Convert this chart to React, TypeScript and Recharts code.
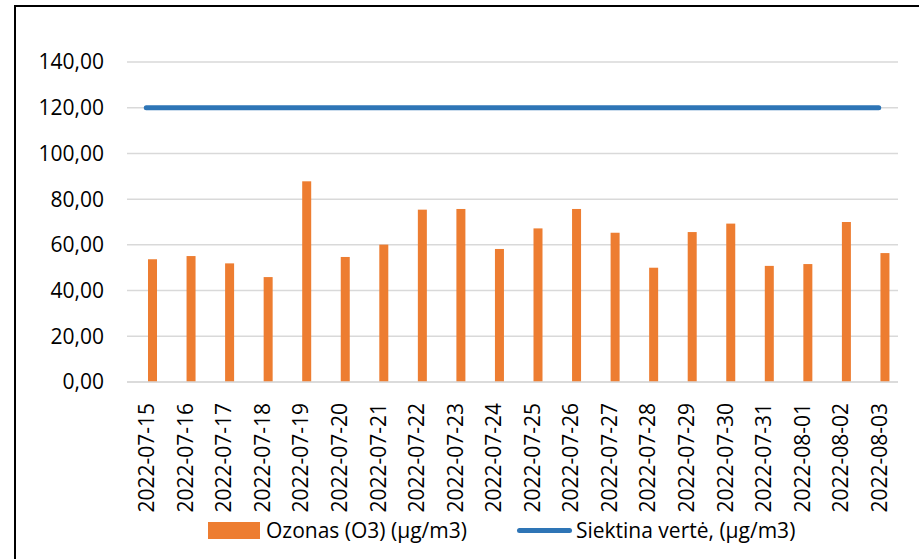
import { Bar, CartesianGrid, ComposedChart, Line, XAxis, YAxis } from "recharts";

const dates = [
  "2022-07-15", "2022-07-16", "2022-07-17", "2022-07-18", "2022-07-19",
  "2022-07-20", "2022-07-21", "2022-07-22", "2022-07-23", "2022-07-24",
  "2022-07-25", "2022-07-26", "2022-07-27", "2022-07-28", "2022-07-29",
  "2022-07-30", "2022-07-31", "2022-08-01", "2022-08-02", "2022-08-03",
];

const ozone = [
  53.7, 55.1, 51.9, 45.9, 87.8, 54.7, 60.1, 75.4, 75.7, 58.2,
  67.2, 75.7, 65.3, 50.0, 65.6, 69.3, 50.8, 51.6, 70.0, 56.4,
];

const target = [
  120, 120, 120, 120, 120, 120, 120, 120, 120, 120,
  120, 120, 120, 120, 120, 120, 120, 120, 120, 120,
];

const yTicks = [0, 20, 40, 60, 80, 100, 120, 140];

const data = dates.map((d, i) => ({ date: d, ozone: ozone[i], target: target[i] }));

const FONT = "'Open Sans', 'Liberation Sans', sans-serif";
const ORANGE = "#ed7d31";
const BLUE = "#2e75b6";

const fmt = (v: number) => v.toFixed(2).replace(".", ",");

// bars sit a bit right of the category centre, like in the excel original
const ShiftedBar = (props: any) => {
  const { x, y, width, height } = props;
  if (height <= 0) return null;
  return <rect x={x + 6} y={y} width={width} height={height} fill={ORANGE} />;
};

const DateTick = (props: any) => {
  const { x, y, payload } = props;
  return (
    <text
      x={x}
      y={y + 13}
      transform={`rotate(-90, ${x}, ${y + 13})`}
      textAnchor="end"
      dominantBaseline="central"
      fontSize={21}
      fontFamily={FONT}
      fill="#000"
    >
      {payload.value}
    </text>
  );
};

const App = () => {
  return (
    <div
      style={{
        position: "absolute",
        left: 0,
        top: 0,
        width: 919,
        height: 559,
        overflow: "hidden",
        background: "#fff",
      }}
    >
      <div
        style={{
          position: "absolute",
          left: 14,
          top: 5,
          width: 1000,
          height: 1000,
          border: "2px solid #000",
        }}
      />
      <div style={{ position: "absolute", left: 0, top: 0 }}>
        <ComposedChart
          width={919}
          height={559}
          data={data}
          margin={{ top: 62, right: 21, left: 0, bottom: 0 }}
        >
          <CartesianGrid vertical={false} stroke="#d9d9d9" strokeWidth={1.5} />
          <XAxis
            dataKey="date"
            interval={0}
            height={177}
            axisLine={{ stroke: "#d9d9d9", strokeWidth: 1.5 }}
            tickLine={false}
            tick={<DateTick />}
          />
          <YAxis
            width={127}
            domain={[0, 140]}
            ticks={yTicks}
            axisLine={false}
            tickLine={false}
            tickSize={0}
            tickMargin={23}
            tickFormatter={fmt}
            tick={{ fontSize: 21, fontFamily: FONT, fill: "#000" }}
          />
          <Bar
            dataKey="ozone"
            barSize={9}
            fill={ORANGE}
            shape={<ShiftedBar />}
            isAnimationActive={false}
          />
          <Line
            dataKey="target"
            stroke={BLUE}
            strokeWidth={5}
            strokeLinecap="round"
            dot={false}
            activeDot={false}
            isAnimationActive={false}
          />
        </ComposedChart>
      </div>
      <div
        style={{
          position: "absolute",
          left: 208,
          top: 516,
          display: "flex",
          alignItems: "center",
          fontFamily: FONT,
          fontSize: 21,
          color: "#000",
          whiteSpace: "nowrap",
        }}
      >
        <span style={{ width: 52, height: 17, background: ORANGE, display: "inline-block" }} />
        <span style={{ marginLeft: 6 }}>Ozonas (O3) (µg/m3)</span>
        <span
          style={{
            width: 55,
            height: 5,
            borderRadius: 3,
            background: BLUE,
            display: "inline-block",
            marginLeft: 50,
          }}
        />
        <span style={{ marginLeft: 4 }}>Siektina vertė, (µg/m3)</span>
      </div>
    </div>
  );
};

export default App;
